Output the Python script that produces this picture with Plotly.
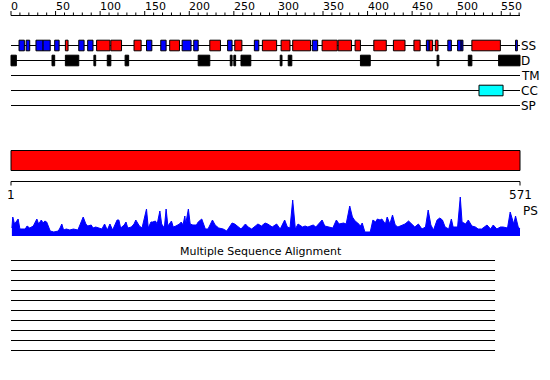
import plotly.graph_objects as go

# ---------------- data ----------------
seq_len = 571
ruler_ticks = list(range(0, 571, 10))
ruler_labels = list(range(0, 551, 50))

track_names = ["SS", "D", "TM", "CC", "SP"]

ss_helix = [(61, 64), (96, 111), (112, 124), (138, 146), (178, 189), (223, 235),
            (251, 259), (282, 298), (303, 313), (316, 336), (349, 366), (367, 382),
            (386, 392), (407, 421), (429, 442), (452, 459), (469, 473), (476, 479),
            (517, 549)]
ss_strand = [(9, 15), (17, 21), (28, 36), (36, 44), (49, 54), (76, 82), (86, 92),
             (152, 158), (168, 174), (192, 202), (205, 210), (243, 248), (273, 278),
             (338, 344), (466, 469), (490, 494), (501, 505), (505, 507), (566, 568)]
disorder = [(0, 6), (46, 49), (61, 76), (93, 95), (108, 112), (128, 132), (210, 223),
            (246, 248), (250, 252), (258, 269), (302, 304), (311, 315), (392, 403),
            (478, 480), (513, 517), (547, 571)]
transmembrane = []
coiled_coil = [(525, 552)]
signal_peptide = []
domains = [(0, 571)]

ps_pos = [1, 2, 4, 8, 10, 13, 16, 18, 21, 25, 29, 31, 34, 36, 38, 40, 43, 44, 48, 53,
          55, 57, 59, 62, 66, 70, 75, 77, 81, 84, 86, 90, 92, 95, 99, 102, 105, 108,
          111, 114, 119, 121, 123, 127, 129, 131, 135, 138, 140, 144, 147, 152, 154,
          157, 159, 162, 164, 167, 169, 172, 174, 176, 180, 182, 185, 189, 191, 193,
          195, 196, 199, 201, 204, 208, 210, 214, 218, 221, 226, 229, 233, 238, 242,
          248, 251, 255, 258, 263, 266, 270, 277, 281, 285, 288, 293, 298, 302, 307,
          310, 313, 316, 319, 322, 327, 330, 333, 339, 342, 349, 352, 356, 361, 365,
          368, 373, 376, 380, 383, 386, 389, 392, 394, 397, 403, 406, 409, 411, 414,
          416, 420, 422, 425, 428, 431, 434, 439, 442, 446, 450, 453, 457, 461, 465,
          468, 471, 474, 478, 481, 484, 487, 491, 494, 496, 501, 504, 506, 510, 513,
          517, 521, 524, 528, 534, 538, 541, 545, 549, 552, 557, 560, 564, 566, 569,
          571]
ps_val = [8, 19, 12, 17, 7, 7, 7, 10, 8, 10, 17, 12, 16, 13, 15, 14, 6, 5, 4, 5,
          8, 12, 6, 7, 6, 7, 6, 10, 19, 12, 10, 11, 8, 9, 8, 7, 12, 6,
          12, 6, 16, 16, 8, 11, 14, 8, 9, 12, 16, 10, 8, 27, 8,
          14, 14, 15, 12, 25, 12, 8, 27, 10, 15, 9, 10, 12, 14, 11,
          20, 12, 27, 12, 11, 11, 14, 17, 7, 7, 16, 11, 8, 7, 5,
          13, 12, 9, 7, 12, 9, 7, 12, 10, 13, 12, 9, 12, 7, 16,
          9, 8, 36, 7, 12, 9, 10, 9, 11, 9, 16, 10, 9, 8, 16,
          12, 13, 12, 30, 19, 15, 13, 10, 13, 4, 4, 16, 14, 17, 16,
          17, 12, 19, 12, 21, 11, 9, 11, 12, 15, 12, 9, 12, 7, 9,
          26, 11, 6, 16, 18, 16, 9, 7, 17, 9, 9, 39, 14, 12, 16,
          10, 9, 7, 7, 11, 7, 11, 7, 9, 9, 8, 24, 12, 20, 9,
          7]

msa_title = "Multiple Sequence Alignment"
msa_rows = 10
msa_end = 543
ps_axis_label = "PS"

# ---------------- layout constants ----------------
W, H = 550, 380
LEFT_PX, RIGHT_PX = 11, 520
k = (RIGHT_PX - LEFT_PX) / seq_len
x_range = [-LEFT_PX / k, (W - LEFT_PX) / k]

RULER_Y = 15.5
track_y = {"SS": 45.5, "D": 60.5, "TM": 75.5, "CC": 90.5, "SP": 105.5}
BOX_HALF = 5.3
DOMAIN_Y = (150.5, 170.5)
AXIS_Y = 181.5
PS_BASE_PX, PS_TOP_PX = 236, 196
MSA_TITLE_Y = 251
MSA_Y0, MSA_DY = 260.5, 10

FONT = "DejaVu Sans"
FS = 11
BLUE, RED, CYAN, BLACK = "#0000ff", "#ff0000", "#00ffff", "#000000"

shapes = []
annotations = []


def hline(x0, x1, y, color=BLACK, width=1):
    shapes.append(dict(type="line", xref="x", yref="y", x0=x0, x1=x1, y0=y, y1=y,
                       line=dict(color=color, width=width), layer="below"))


def box(x0, x1, yc, fill, half=BOX_HALF):
    shapes.append(dict(type="rect", xref="x", yref="y", x0=x0, x1=x1,
                       y0=yc - half, y1=yc + half, fillcolor=fill,
                       line=dict(color=BLACK, width=1), layer="above"))


def label(x, y, text, xanchor="left", xref="x", xshift=0, size=FS):
    annotations.append(dict(x=x, y=y, xref=xref, yref="y", text=text, showarrow=False,
                            xanchor=xanchor, yanchor="middle", xshift=xshift,
                            font=dict(family=FONT, size=size, color=BLACK)))


# ruler
hline(0, seq_len, RULER_Y)
for t in ruler_ticks:
    ln = 4.5 if t % 50 == 0 else 3
    shapes.append(dict(type="line", xref="x", yref="y", x0=t, x1=t, y0=RULER_Y,
                       y1=RULER_Y - ln, line=dict(color=BLACK, width=1)))
for t in ruler_labels:
    label(t, 6.5, str(t), xanchor="left", xshift=-2)

# tracks
for name in track_names:
    hline(0, seq_len, track_y[name])
    label(seq_len, track_y[name], name, xshift=-1, size=12)
for s, e in ss_helix:
    box(s, e, track_y["SS"], RED)
for s, e in ss_strand:
    box(s, e, track_y["SS"], BLUE)
for s, e in disorder:
    box(s, e, track_y["D"], BLACK)
for s, e in transmembrane:
    box(s, e, track_y["TM"], "#ffff00")
for s, e in coiled_coil:
    box(s, e, track_y["CC"], CYAN)
for s, e in signal_peptide:
    box(s, e, track_y["SP"], "#00ff00")

# domain bar
for s, e in domains:
    shapes.append(dict(type="rect", xref="x", yref="y", x0=s, x1=e,
                       y0=DOMAIN_Y[0], y1=DOMAIN_Y[1], fillcolor=RED,
                       line=dict(color=BLACK, width=1)))

# sequence axis
hline(0, seq_len, AXIS_Y)
for t in (0, seq_len):
    shapes.append(dict(type="line", xref="x", yref="y", x0=t, x1=t, y0=AXIS_Y,
                       y1=AXIS_Y + 4, line=dict(color=BLACK, width=1)))
label(0, 195, "1", xanchor="center", size=12)
label(seq_len, 195, str(seq_len), xanchor="center", size=12)
label(seq_len, 210.5, ps_axis_label, xshift=1, size=12)

# MSA
annotations.append(dict(x=260.8 / W, y=MSA_TITLE_Y, xref="paper", yref="y",
                        text=msa_title, showarrow=False, xanchor="center",
                        yanchor="middle", font=dict(family=FONT, size=FS, color=BLACK)))
for i in range(msa_rows):
    hline(0, msa_end, MSA_Y0 + i * MSA_DY)

fig = go.Figure()
fig.add_trace(go.Scatter(x=ps_pos, y=ps_val, mode="lines", fill="tozeroy",
                         line=dict(color=BLUE, width=1), fillcolor=BLUE,
                         xaxis="x", yaxis="y2", hoverinfo="skip", showlegend=False))
fig.add_trace(go.Scatter(x=[0], y=[-100], mode="markers", marker=dict(opacity=0),
                         xaxis="x", yaxis="y", hoverinfo="skip", showlegend=False))

ps_dom = [(H - PS_BASE_PX) / H, (H - PS_TOP_PX) / H]
fig.update_layout(
    width=W, height=H, margin=dict(l=0, r=0, t=0, b=0),
    paper_bgcolor="white", plot_bgcolor="rgba(0,0,0,0)",
    xaxis=dict(range=x_range, visible=False, fixedrange=True),
    yaxis=dict(range=[H, 0], visible=False, fixedrange=True, domain=[0, 1]),
    yaxis2=dict(range=[0, PS_BASE_PX - PS_TOP_PX], domain=ps_dom, visible=False,
                anchor="x", fixedrange=True),
    shapes=shapes, annotations=annotations, showlegend=False,
)
fig.write_html("out.html", config={"displayModeBar": False},
               post_script="document.body.style.margin='0px';")
